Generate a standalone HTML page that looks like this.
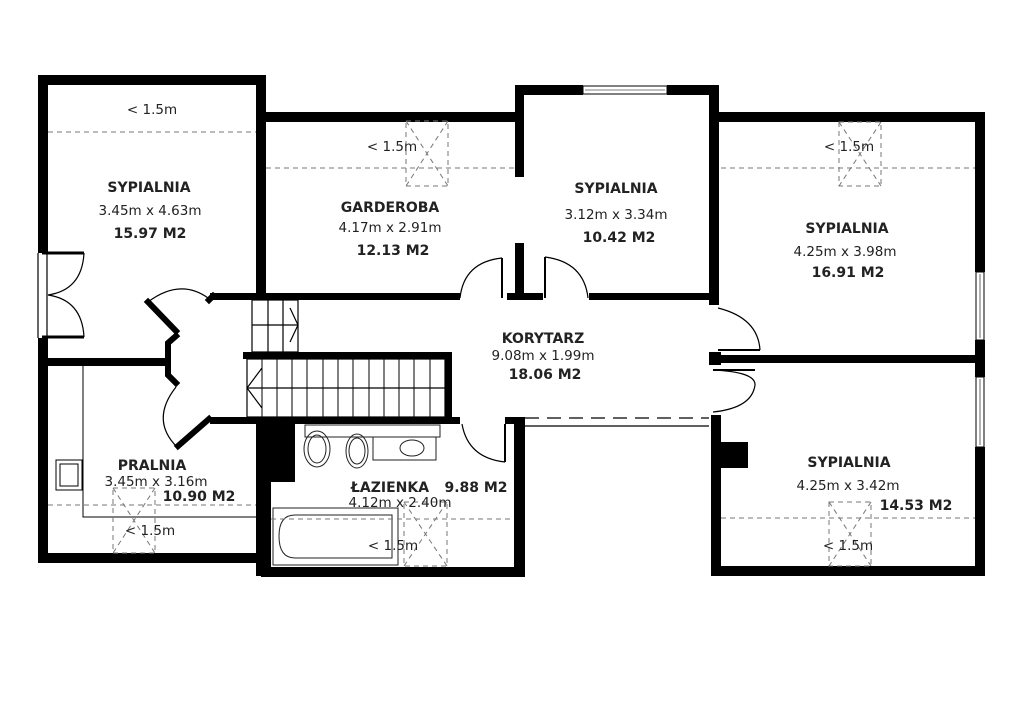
<!DOCTYPE html>
<html><head><meta charset="utf-8"><style>
html,body{margin:0;padding:0;background:#fff;}
svg{display:block;}
text{font-family:"DejaVu Sans","Liberation Sans",sans-serif;fill:#222;}
.b{font-weight:bold;font-size:14px;}
.n{font-size:13.5px;}
</style></head><body>
<svg width="1024" height="724" viewBox="0 0 1024 724" xmlns="http://www.w3.org/2000/svg">
<rect width="1024" height="724" fill="#fff"/>
<g fill="#000">
<rect x="38" y="75" width="228" height="10"/>
<rect x="38" y="75" width="10" height="178"/>
<rect x="38" y="338" width="10" height="225"/>
<rect x="38" y="553" width="228" height="10"/>
<rect x="256" y="75" width="10" height="225"/>
<rect x="48" y="358" width="117" height="8"/>
<rect x="256" y="420" width="15" height="156"/>
<rect x="261" y="423" width="34" height="59"/>
<rect x="266" y="112" width="258" height="10"/>
<rect x="210" y="293" width="250" height="7"/>
<rect x="515" y="85" width="68" height="10"/>
<rect x="667" y="85" width="52" height="10"/>
<rect x="515" y="85" width="9" height="92"/>
<rect x="515" y="243" width="9" height="56"/>
<rect x="507" y="293" width="36" height="7"/>
<rect x="589" y="293" width="125" height="7"/>
<rect x="709" y="85" width="10" height="220"/>
<rect x="719" y="112" width="266" height="10"/>
<rect x="975" y="112" width="10" height="160"/>
<rect x="975" y="340" width="10" height="37"/>
<rect x="975" y="447" width="10" height="128"/>
<rect x="718" y="355" width="267" height="8"/>
<rect x="709" y="352" width="12" height="13"/>
<rect x="711" y="415" width="10" height="160"/>
<rect x="711" y="566" width="274" height="10"/>
<rect x="721" y="442" width="27" height="26"/>
<rect x="243" y="352" width="209" height="7"/>
<rect x="445" y="352" width="7" height="68"/>
<rect x="210" y="417" width="250" height="7"/>
<rect x="505" y="417" width="20" height="7"/>
<rect x="514" y="420" width="11" height="156"/>
<rect x="261" y="567" width="264" height="10"/>
</g>
<g fill="#fff" stroke="#000" stroke-width="1">
<rect x="583" y="86" width="84" height="8"/>
<rect x="976" y="272" width="8" height="68"/>
<rect x="976" y="377" width="8" height="70"/>
</g>
<line x1="585" y1="90" x2="665" y2="90" stroke="#000" stroke-width="0.6"/>
<line x1="980" y1="274" x2="980" y2="338" stroke="#000" stroke-width="0.6"/>
<line x1="980" y1="379" x2="980" y2="445" stroke="#000" stroke-width="0.6"/>
<g stroke="#000" stroke-width="6" fill="none" stroke-linecap="square">
<line x1="148" y1="302" x2="176" y2="331"/>
<polyline points="176,336 168,343 168,375 176,383"/>
<line x1="209" y1="300" x2="213" y2="296"/>
<line x1="209" y1="419" x2="178" y2="446"/>
</g>
<g stroke="#000" stroke-width="1.2" fill="none">
<path d="M148,302 Q180,278 208,298"/>
<path d="M176,387 Q150,420 177,447"/>
<line x1="42" y1="253" x2="84" y2="253" stroke-width="3"/>
<line x1="42" y1="337" x2="84" y2="337" stroke-width="3"/>
<path d="M84,253 Q82,290 48,295 Q82,300 84,337"/>
<line x1="38" y1="253" x2="38" y2="338"/>
<line x1="47" y1="253" x2="47" y2="338"/>
<path d="M460,298 Q464,262 502,258"/>
<line x1="502" y1="258" x2="502" y2="298" stroke-width="2"/>
<path d="M545,257 Q584,262 588,298"/>
<line x1="545" y1="257" x2="545" y2="298" stroke-width="2"/>
<path d="M718,308 Q758,318 760,350"/>
<line x1="718" y1="350" x2="760" y2="350" stroke-width="2"/>
<path d="M713,370 Q756,372 755,385 Q752,408 713,412"/>
<line x1="713" y1="370" x2="755" y2="370" stroke-width="2"/>
<path d="M462,424 Q468,458 505,462"/>
<line x1="505" y1="424" x2="505" y2="462" stroke-width="2"/>
<rect x="252" y="300" width="46" height="52"/>
<line x1="252" y1="325" x2="298" y2="325"/>
<line x1="268" y1="300" x2="268" y2="352"/>
<line x1="283" y1="300" x2="283" y2="352"/>
<polyline points="290,308 298,325 290,342"/>
<rect x="247" y="359" width="198" height="58"/>
<line x1="247" y1="388" x2="445" y2="388"/>
<polyline points="262,368 247,388 262,408"/>
</g>
<g stroke="#000" stroke-width="1">
<line x1="262" y1="359" x2="262" y2="417"/><line x1="277" y1="359" x2="277" y2="417"/>
<line x1="292" y1="359" x2="292" y2="417"/><line x1="307" y1="359" x2="307" y2="417"/>
<line x1="323" y1="359" x2="323" y2="417"/><line x1="338" y1="359" x2="338" y2="417"/>
<line x1="353" y1="359" x2="353" y2="417"/><line x1="369" y1="359" x2="369" y2="417"/>
<line x1="384" y1="359" x2="384" y2="417"/><line x1="399" y1="359" x2="399" y2="417"/>
<line x1="414" y1="359" x2="414" y2="417"/><line x1="430" y1="359" x2="430" y2="417"/>
</g>
<g stroke="#000" stroke-width="1.2" fill="none">
<line x1="525" y1="418" x2="709" y2="418" stroke-dasharray="14,8"/>
<line x1="525" y1="426" x2="709" y2="426"/>
</g>
<g stroke="#000" stroke-width="1" fill="none">
<polyline points="83,366 83,517 256,517"/>
<rect x="56" y="460" width="26" height="30"/>
<rect x="60" y="464" width="18" height="22"/>
</g>
<g stroke="#222" stroke-width="1" fill="none">
<rect x="305" y="425" width="135" height="12"/>
<rect x="373" y="437" width="63" height="23"/>
<ellipse cx="317" cy="449" rx="13" ry="18"/><ellipse cx="317" cy="449" rx="9" ry="14"/>
<ellipse cx="357" cy="451" rx="11" ry="17"/><ellipse cx="357" cy="451" rx="8" ry="13"/>
<ellipse cx="412" cy="448" rx="12" ry="8"/>
<rect x="273" y="508" width="125" height="57"/>
<path d="M295,515 H392 V558 H295 Q279,558 279,536 Q279,515 295,515 Z"/>
</g>
<g stroke="#777" stroke-width="1" fill="none" stroke-dasharray="5,4">
<line x1="48" y1="132" x2="256" y2="132"/>
<line x1="266" y1="168" x2="515" y2="168"/>
<line x1="721" y1="168" x2="975" y2="168"/>
<line x1="48" y1="505" x2="256" y2="505"/>
<line x1="271" y1="519" x2="514" y2="519"/>
<line x1="721" y1="518" x2="975" y2="518"/>
<rect x="406" y="121" width="42" height="65"/><path d="M406,121 L448,186 M448,121 L406,186"/>
<rect x="839" y="122" width="42" height="64"/><path d="M839,122 L881,186 M881,122 L839,186"/>
<rect x="113" y="488" width="42" height="65"/><path d="M113,488 L155,553 M155,488 L113,553"/>
<rect x="404" y="502" width="43" height="64"/><path d="M404,502 L447,566 M447,502 L404,566"/>
<rect x="829" y="502" width="42" height="64"/><path d="M829,502 L871,566 M871,502 L829,566"/>
</g>
<g text-anchor="middle">
<text x="152" y="114" class="n">&lt; 1.5m</text>
<text x="149" y="192" class="b">SYPIALNIA</text>
<text x="150" y="215" class="n">3.45m x 4.63m</text>
<text x="150" y="238" class="b">15.97 M2</text>
<text x="392" y="151" class="n">&lt; 1.5m</text>
<text x="390" y="212" class="b">GARDEROBA</text>
<text x="390" y="232" class="n">4.17m x 2.91m</text>
<text x="393" y="255" class="b">12.13 M2</text>
<text x="616" y="193" class="b">SYPIALNIA</text>
<text x="616" y="219" class="n">3.12m x 3.34m</text>
<text x="619" y="242" class="b">10.42 M2</text>
<text x="849" y="151" class="n">&lt; 1.5m</text>
<text x="847" y="233" class="b">SYPIALNIA</text>
<text x="845" y="256" class="n">4.25m x 3.98m</text>
<text x="848" y="277" class="b">16.91 M2</text>
<text x="543" y="343" class="b">KORYTARZ</text>
<text x="543" y="360" class="n">9.08m x 1.99m</text>
<text x="545" y="379" class="b">18.06 M2</text>
<text x="152" y="470" class="b">PRALNIA</text>
<text x="156" y="486" class="n">3.45m x 3.16m</text>
<text x="199" y="501" class="b">10.90 M2</text>
<text x="150" y="535" class="n">&lt; 1.5m</text>
<text x="390" y="492" class="b">ŁAZIENKA</text>
<text x="476" y="492" class="b">9.88 M2</text>
<text x="400" y="507" class="n">4.12m x 2.40m</text>
<text x="393" y="550" class="n">&lt; 1.5m</text>
<text x="849" y="467" class="b">SYPIALNIA</text>
<text x="848" y="490" class="n">4.25m x 3.42m</text>
<text x="916" y="510" class="b">14.53 M2</text>
<text x="848" y="550" class="n">&lt; 1.5m</text>
</g>
</svg>
</body></html>
